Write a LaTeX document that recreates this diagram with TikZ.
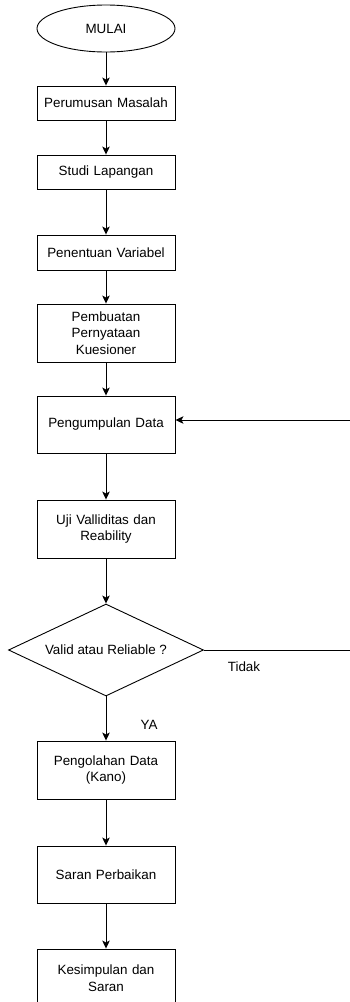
\documentclass[tikz,border=0pt]{standalone}
\usepackage{fontspec}
\setmainfont{Liberation Sans}
\usepackage{tikz}
\usetikzlibrary{positioning, arrows.meta, shapes.geometric}
\tikzset{
  arr/.style={-{Stealth[length=8pt,width=7.5pt,inset=2pt]}, line width=0.9pt, draw=black},
  ln/.style={line width=0.9pt, draw=black},
  blk/.style={draw=black, line width=0.9pt, align=center, inner sep=2pt,
    minimum width=138pt, text width=130pt},
  term/.style={draw=black, line width=0.9pt, ellipse, inner sep=0pt,
    minimum width=138pt, minimum height=47pt},
  dec/.style={draw=black, line width=0.9pt, diamond, inner sep=0pt, shape aspect=2.12,
    minimum width=195pt, minimum height=92pt},
  lab/.style={inner sep=1pt}
}

\begin{document}
\begin{tikzpicture}[x=1pt, y=1pt, font=\fontsize{13.4}{16.5}\selectfont]
\useasboundingbox (0,0) rectangle (349,-1002);
% ---- main column ----
\node[term] (mulai) at (106,-28.5) {MULAI};
\node[blk, minimum height=34pt] (rumus) at (106,-103) {Perumusan Masalah};
\node[blk, minimum height=34pt] (studi) at (106,-172) {Studi Lapangan};
\node[blk, minimum height=35pt] (var) at (106,-252.5) {Penentuan Variabel};
\node[blk, minimum height=58pt] (kues) at (106,-333) {Pembuatan\\Pernyataan\\Kuesioner};
\node[blk, minimum height=57pt] (kumpul) at (106,-424.5) {Pengumpulan Data};
\node[blk, minimum height=58pt] (uji) at (106,-529) {Uji Valliditas dan\\Reability};
\node[dec] (valid) at (106,-650) {Valid atau Reliable ?};
\node[blk, minimum height=58pt] (olah) at (106,-770) {Pengolahan Data\\(Kano)};
\node[blk, minimum height=57pt] (saran) at (106,-874.5) {Saran Perbaikan};
\node[blk, minimum height=58pt] (simpul) at (106,-978) {Kesimpulan dan\\Saran};
% ---- arrows ----
\foreach \a/\b in {mulai/rumus, rumus/studi, studi/var, var/kues, kumpul/uji,
  kues/kumpul, uji/valid, valid/olah, olah/saran, saran/simpul}{
  \draw[arr] (\a) -- (\b);}
% ---- loop back (Tidak) ----
\coordinate (lp1) at (352,-650);
\coordinate (lp2) at (352,-420);
\draw[ln] (valid.east) -- (lp1) -- (lp2);
\draw[arr] (lp2) -- (kumpul.east |- lp2);
\node[lab] (tidak) at (244,-667) {Tidak};
\node[lab] (ya) at (149,-725) {YA};
\end{tikzpicture}
\end{document}
